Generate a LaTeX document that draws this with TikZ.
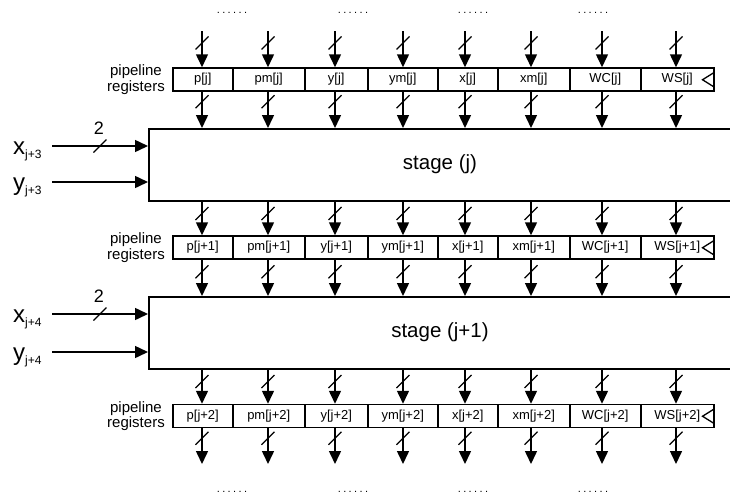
\documentclass[tikz,border=0pt]{standalone}
\usepackage{fontspec}
\setmainfont{Liberation Sans}
\newfontfamily\dotfont[LetterSpace=22]{Liberation Sans}
\usetikzlibrary{arrows.meta}

\begin{document}
\begin{tikzpicture}[x=1pt,y=-1pt,
  wire/.style={line width=1.5pt},
  bus/.style={wire,-{Triangle[length=13pt,width=12pt]}},
  slash/.pic={\draw[line width=1.3pt] (-6.5,6.5) -- (6.5,-6.5);},
  regcell/.style={draw,line width=1.5pt,minimum height=23pt,inner sep=0pt,
    anchor=west,font=\fontsize{13}{13}\selectfont},
  stagebox/.style={draw,line width=1.5pt,minimum height=72pt,minimum width=620pt,
    anchor=north west,inner sep=0pt},
  stagetext/.style={inner sep=0pt,font=\fontsize{20.5}{22}\selectfont},
  reglabel/.style={align=center,inner sep=0pt,font=\fontsize{15}{15.5}\selectfont},
  inlabel/.style={anchor=base west,inner sep=0pt},
  widthlabel/.style={inner sep=0pt,font=\fontsize{18}{18}\selectfont},
  ellipsis/.style={inner sep=0pt,font=\dotfont\fontsize{11}{11}\selectfont},
  clock/.style={line width=1.3pt}
]
\clip (0,0) rectangle (730,498);

% continuation marks above and below
\foreach \i/\x in {1/232,2/353,3/473,4/593}{
  \node[ellipsis] (dtop\i) at (\x,12.7) {......};
  \node[ellipsis] (dbot\i) at (\x,491.5) {......};
}

% register rows and their labels
\foreach \r/\idx/\yc in {1/j/79.5,2/j+1/247.5,3/j+2/416}{
  \foreach \c/\nm/\l/\w in {1/p/172/60,2/pm/232/72,3/y/304/63,4/ym/367/70,
                           5/x/437/60,6/xm/497/72,7/WC/569/71,8/WS/640/73}{
    \node[regcell,minimum width=\w pt] (r\r c\c) at (\l,\yc) {\nm[\idx]};
  }
  % clock input of the register row
  \draw[clock] (r\r c8.north east) ++(0,5) -- ++(-12,7.5) -- ++(12,7.5);
  \node[reglabel] (rl\r) at (136,\yc) {pipeline\\registers};
}

% the two pipeline stages
\node[stagebox] (s1) at (148,128) {};
\node[stagetext] (s1t) at (440,164) {stage (j)};
\node[stagebox] (s2) at (148,296) {};
\node[stagetext] (s2t) at (440,332) {stage (j+1)};

% vertical buses through registers and stages
\foreach \k/\x in {1/202,2/268,3/335,4/403,5/465,6/531,7/602,8/676}{
  \coordinate (in\k) at (\x,31);
  \coordinate (out\k) at (\x,464);
  \draw[bus] (in\k) -- (in\k |- r1c\k.north);
  \path (in\k) ++(0,12) pic{slash};
  \draw[bus] (in\k |- r1c\k.south) coordinate (b\k) -- (in\k |- s1.north);
  \path (b\k) ++(0,10) pic{slash};
  \draw[bus] (in\k |- s1.south) coordinate (c\k) -- (in\k |- r2c\k.north);
  \path (c\k) ++(0,12) pic{slash};
  \draw[bus] (in\k |- r2c\k.south) coordinate (d\k) -- (in\k |- s2.north);
  \path (d\k) ++(0,12) pic{slash};
  \draw[bus] (in\k |- s2.south) coordinate (e\k) -- (in\k |- r3c\k.north);
  \path (e\k) ++(0,12) pic{slash};
  \draw[bus] (in\k |- r3c\k.south) coordinate (f\k) -- (out\k);
  \path (f\k) ++(0,10) pic{slash};
}

% stage inputs
\foreach \s/\ya/\yb/\sub in {1/146/182/j+3,2/314/352/j+4}{
  \coordinate (xs\s) at (52,\ya);
  \coordinate (ys\s) at (52,\yb);
  \node[inlabel] (xl\s) at (13,\ya+8.5)
    {\fontsize{24}{24}\selectfont x\raisebox{-3.5pt}{\fontsize{12}{12}\selectfont \sub}};
  \node[inlabel] (yl\s) at (13,\yb+8.5)
    {\fontsize{24}{24}\selectfont y\raisebox{-3.5pt}{\fontsize{12}{12}\selectfont \sub}};
  \draw[bus] (xs\s) -- (xs\s -| s\s.west);
  \path (xs\s) ++(48,0) pic{slash};
  \node[widthlabel] (w\s) at (99,\ya-18) {2};
  \draw[bus] (ys\s) -- (ys\s -| s\s.west);
}
\end{tikzpicture}
\end{document}
